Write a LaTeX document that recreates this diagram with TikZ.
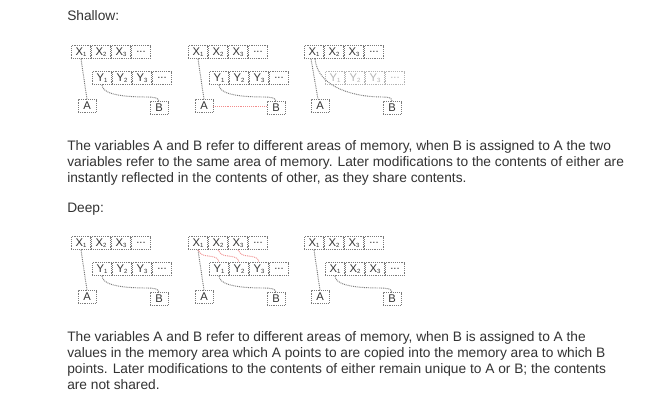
\documentclass[tikz,border=0pt]{standalone}
\usepackage{fontspec}
\setmainfont{Liberation Sans}
\usetikzlibrary{calc}
\definecolor{txt}{HTML}{333333}
\definecolor{ln}{HTML}{7A7A7A}
\definecolor{faint}{HTML}{B4B4B4}
\definecolor{redln}{HTML}{F28C8C}
\tikzset{
  dots/.style={line width=0.7pt, dash pattern=on 0.7pt off 0.7pt},
  cell/.style={dots, draw=ln, text=txt, minimum width=14.6pt, minimum height=9.6pt,
    inner sep=0pt, font=\fontsize{8.4}{9}\selectfont},
  faded/.style={draw=faint, text=faint},
  varbox/.style={cell, minimum width=13.5pt, minimum height=9.4pt},
  conn/.style={dots, draw=ln},
  redconn/.style={dots, draw=redln},
  para/.style={anchor=base west, inner sep=0pt, text=txt, font=\fontsize{10.3}{12}\selectfont},
}
\newcommand\subidx[1]{\raisebox{-1.2pt}{\fontsize{4.5}{5}\selectfont #1}}
\newcommand\memrow[5]{%
  \foreach \i in {1,2,3} {\node[cell,#5] (#1\i) at ({#2+20*\i-10},#3) {#4\subidx{\i}};}
  \node[cell,#5] (#1d) at ({#2+70},#3) {...};
}
\begin{document}
\begin{tikzpicture}[x=0.75pt,y=-0.75pt]
\useasboundingbox (0,0) rectangle (671,410);
\fill[white] (0,0) rectangle (671,410);

% ---------- texts ----------
\node[para] (t1) at (67,21) {Shallow:};
\node[para] (t2) at (67,150) {The variables A and B refer to different areas of memory, when B is assigned to A the two};
\node[para] (t3) at (67,166) {variables refer to the same area of memory. Later modifications to the contents of either are};
\node[para] (t4) at (67,182) {instantly reflected in the contents of other, as they share contents.};
\node[para] (t5) at (67,212) {Deep:};
\node[para] (t6) at (67,341) {The variables A and B refer to different areas of memory, when B is assigned to A the};
\node[para] (t7) at (67,357) {values in the memory area which A points to are copied into the memory area to which B};
\node[para] (t8) at (67,373) {points. Later modifications to the contents of either remain unique to A or B; the contents};
\node[para] (t9) at (67,389) {are not shared.};

% ---------- Shallow 1 ----------
\def\xo{71}\def\yo{45}
\memrow{sax}{\xo}{\yo+7}{X}{}
\memrow{say}{\xo+21}{\yo+33}{Y}{}
\node[varbox] (saA) at (\xo+16,\yo+61) {A};
\node[varbox] (saB) at (\xo+88,\yo+63) {B};
\draw[conn] (sax1.south) -- (saA.north);
\draw[conn] (say1.south) .. controls +(0,8) and +(-30,0) .. (\xo+76,\yo+52) .. controls +(8,0) and +(0,-3) .. (saB.north);

% ---------- Shallow 2 ----------
\def\xo{188}
\memrow{sbx}{\xo}{\yo+7}{X}{}
\memrow{sby}{\xo+21}{\yo+33}{Y}{}
\node[varbox] (sbA) at (\xo+16,\yo+61) {A};
\node[varbox] (sbB) at (\xo+88,\yo+63) {B};
\draw[conn] (sbx1.south) -- (sbA.north);
\draw[conn] (sby1.south) .. controls +(0,8) and +(-30,0) .. (\xo+76,\yo+52) .. controls +(8,0) and +(0,-3) .. (sbB.north);
\draw[redconn] (sbA.east) -- (sbA.east -| sbB.west);

% ---------- Shallow 3 ----------
\def\xo{304}
\memrow{scx}{\xo}{\yo+7}{X}{}
\memrow{scy}{\xo+21}{\yo+33}{Y}{faded}
\node[varbox] (scA) at (\xo+16,\yo+61) {A};
\node[varbox] (scB) at (\xo+88,\yo+63) {B};
\draw[conn] ($(scx1.south)+(-3,0)$) -- ($(scA.north)+(-2,0)$);
\draw[conn] ($(scx1.south)+(1,0)$) .. controls +(3,30) and +(-25,0) .. (\xo+78,\yo+52) .. controls +(8,0) and +(0,-3) .. (scB.north);

% ---------- Deep ----------
\def\yo{236}
% Deep 1
\def\xo{71}
\memrow{dax}{\xo}{\yo+7}{X}{}
\memrow{day}{\xo+21}{\yo+33}{Y}{}
\node[varbox] (daA) at (\xo+16,\yo+61) {A};
\node[varbox] (daB) at (\xo+88,\yo+63) {B};
\draw[conn] (dax1.south) -- (daA.north);
\draw[conn] (day1.south) .. controls +(0,8) and +(-30,0) .. (\xo+76,\yo+52) .. controls +(8,0) and +(0,-3) .. (daB.north);

% Deep 2
\def\xo{188}
\memrow{dbx}{\xo}{\yo+7}{X}{}
\memrow{dby}{\xo+21}{\yo+33}{Y}{}
\node[varbox] (dbA) at (\xo+16,\yo+61) {A};
\node[varbox] (dbB) at (\xo+88,\yo+63) {B};
\draw[conn] (dbx1.south) -- (dbA.north);
\draw[conn] (dby1.south) .. controls +(0,8) and +(-30,0) .. (\xo+76,\yo+52) .. controls +(8,0) and +(0,-3) .. (dbB.north);
\foreach \i in {1,2,3} {\draw[redconn] (dbx\i.south) .. controls +(4,6) and +(-6,-1) .. ($(dbx\i.south)!0.5!(dby\i.north)$) .. controls +(6,1) and +(-1,-5) .. (dby\i.north);}

% Deep 3
\def\xo{304}
\memrow{dcx}{\xo}{\yo+7}{X}{}
\memrow{dcy}{\xo+21}{\yo+33}{X}{}
\node[varbox] (dcA) at (\xo+16,\yo+61) {A};
\node[varbox] (dcB) at (\xo+88,\yo+63) {B};
\draw[conn] (dcx1.south) -- (dcA.north);
\draw[conn] (dcy1.south) .. controls +(0,8) and +(-30,0) .. (\xo+76,\yo+52) .. controls +(8,0) and +(0,-3) .. (dcB.north);
\end{tikzpicture}
\end{document}
